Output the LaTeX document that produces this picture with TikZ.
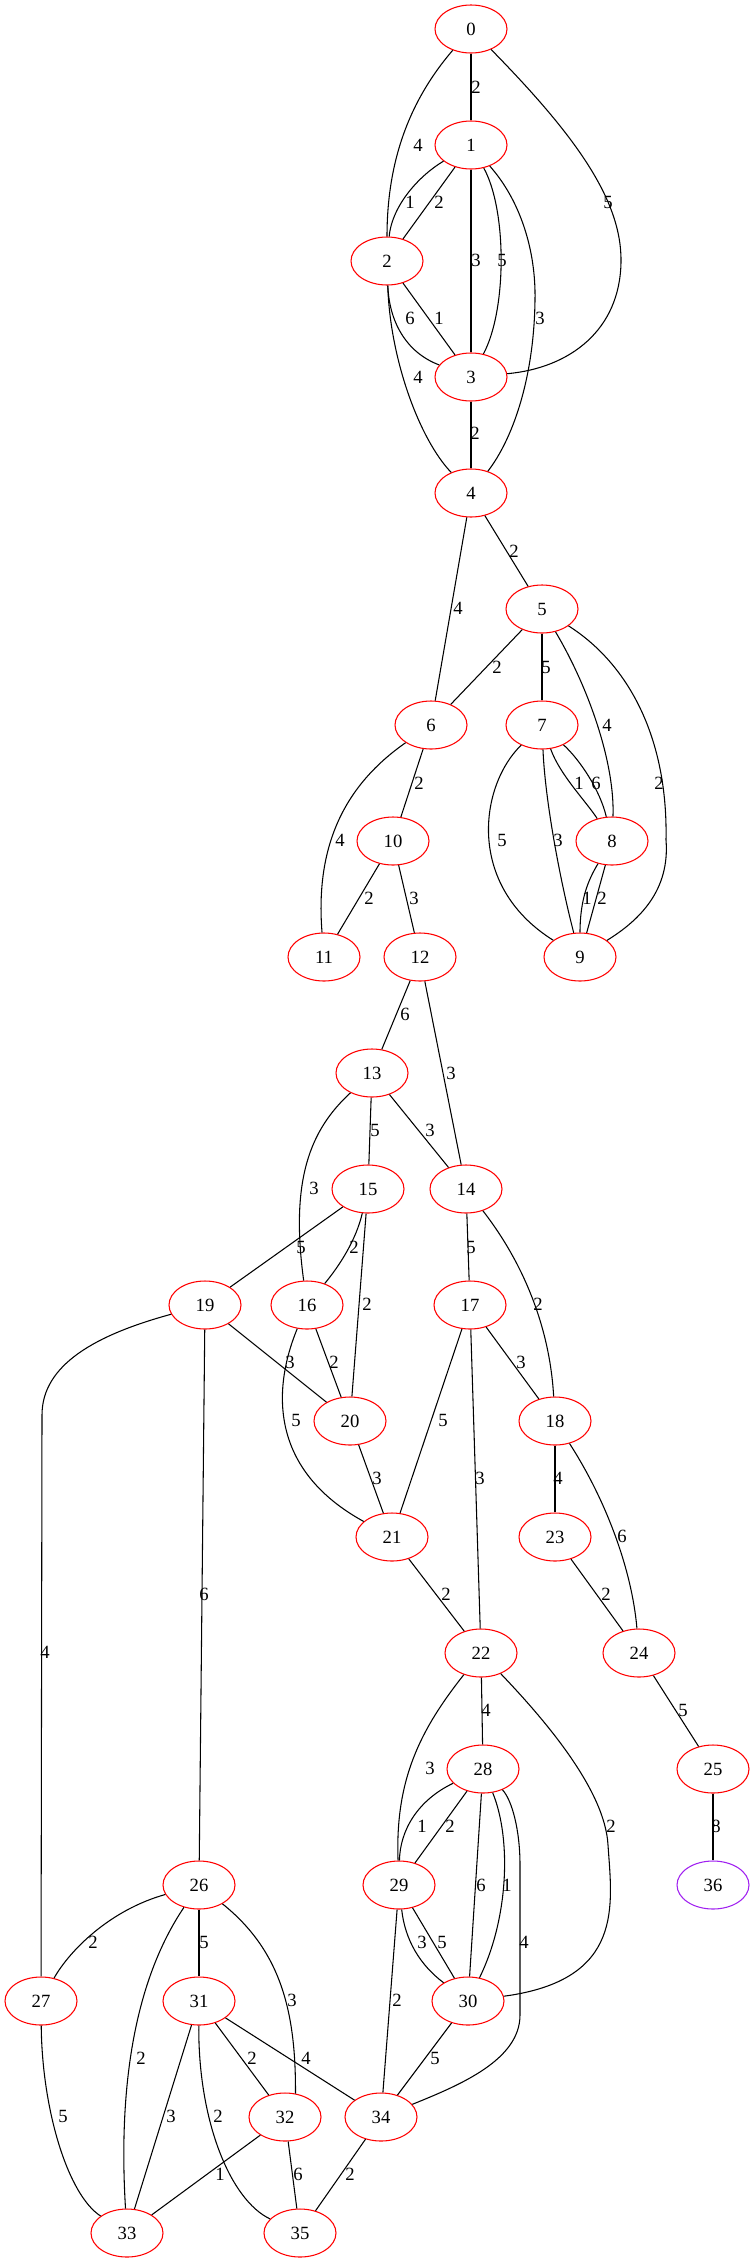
\documentclass[tikz,border=0pt]{standalone}
\usepackage{fontspec}
\setmainfont{Liberation Serif}
\usetikzlibrary{shapes.geometric}
\tikzset{
  nd/.style={ellipse,draw=red,line width=0.8pt,minimum width=54pt,minimum height=36pt,inner sep=0pt,font=\fontsize{14pt}{16pt}\selectfont},
  ndp/.style={nd,draw={rgb,255:red,160;green,32;blue,240}},
  lbl/.style={inner sep=0pt,font=\fontsize{14pt}{16pt}\selectfont},
  ed/.style={draw=black,line width=0.8pt}
}
\begin{document}
\begin{tikzpicture}[x=0.75pt,y=-0.75pt]
\useasboundingbox (0,0) rectangle (751,2263);
% nodes
\node[nd] (n0) at (471,29) {0};
\node[nd] (n1) at (471,145) {1};
\node[nd] (n2) at (387,261) {2};
\node[nd] (n3) at (471,377) {3};
\node[nd] (n4) at (471,493) {4};
\node[nd] (n5) at (542,609) {5};
\node[nd] (n6) at (431,725) {6};
\node[nd] (n7) at (542,725) {7};
\node[nd] (n8) at (612,841) {8};
\node[nd] (n9) at (580,957) {9};
\node[nd] (n10) at (393,841) {10};
\node[nd] (n11) at (324,957) {11};
\node[nd] (n12) at (420,957) {12};
\node[nd] (n13) at (372,1073) {13};
\node[nd] (n14) at (466,1189) {14};
\node[nd] (n15) at (368,1189) {15};
\node[nd] (n16) at (307,1305) {16};
\node[nd] (n17) at (470,1305) {17};
\node[nd] (n18) at (555,1421) {18};
\node[nd] (n19) at (205,1305) {19};
\node[nd] (n20) at (350,1421) {20};
\node[nd] (n21) at (392,1537) {21};
\node[nd] (n22) at (481,1653) {22};
\node[nd] (n23) at (555,1537) {23};
\node[nd] (n24) at (639,1653) {24};
\node[nd] (n25) at (713,1769) {25};
\node[nd] (n26) at (199,1885) {26};
\node[nd] (n27) at (41,2001) {27};
\node[nd] (n28) at (483,1769) {28};
\node[nd] (n29) at (399,1885) {29};
\node[nd] (n30) at (468,2001) {30};
\node[nd] (n31) at (199,2001) {31};
\node[nd] (n32) at (285,2117) {32};
\node[nd] (n33) at (127,2233) {33};
\node[nd] (n34) at (381,2117) {34};
\node[nd] (n35) at (300,2233) {35};
\node[ndp] (n36) at (713,1885) {36};
% edges
\draw[ed] (n0) -- (n1);
\draw[ed] (n0) .. controls (410,100) and (387,160) .. (n2);
\draw[ed] (n0) .. controls (575,135) and (622,200) .. (621,262) .. controls (620,330) and (570,368) .. (n3);
\draw[ed] (n1) .. controls (420,175) and (392,205) .. (n2);
\draw[ed] (n1) -- (n2);
\draw[ed] (n1) -- (n3);
\draw[ed] (n1) .. controls (507,210) and (507,310) .. (n3);
\draw[ed] (n1) .. controls (520,200) and (536,250) .. (535,300) .. controls (534,380) and (512,440) .. (n4);
\draw[ed] (n2) .. controls (389,320) and (405,352) .. (n3);
\draw[ed] (n2) -- (n3);
\draw[ed] (n2) .. controls (390,360) and (420,440) .. (n4);
\draw[ed] (n3) -- (n4);
\draw[ed] (n4) -- (n5);
\draw[ed] (n4) -- (n6);
\draw[ed] (n5) -- (n6);
\draw[ed] (n5) -- (n7);
\draw[ed] (n5) .. controls (590,690) and (615,765) .. (n8);
\draw[ed] (n5) .. controls (630,665) and (668,740) .. (666,840) .. controls (670,890) and (640,920) .. (n9);
\draw[ed] (n6) -- (n10);
\draw[ed] (n6) .. controls (345,785) and (315,845) .. (n11);
\draw[ed] (n7) .. controls (560,775) and (585,800) .. (n8);
\draw[ed] (n7) .. controls (580,760) and (600,790) .. (n8);
\draw[ed] (n7) .. controls (480,785) and (465,885) .. (n9);
\draw[ed] (n7) .. controls (545,800) and (560,880) .. (n9);
\draw[ed] (n8) .. controls (588,880) and (580,900) .. (n9);
\draw[ed] (n8) -- (n9);
\draw[ed] (n10) -- (n11);
\draw[ed] (n10) -- (n12);
\draw[ed] (n12) -- (n13);
\draw[ed] (n12) -- (n14);
\draw[ed] (n13) -- (n14);
\draw[ed] (n13) -- (n15);
\draw[ed] (n13) .. controls (310,1130) and (290,1180) .. (n16);
\draw[ed] (n15) -- (n19);
\draw[ed] (n15) .. controls (356,1240) and (340,1265) .. (n16);
\draw[ed] (n15) -- (n20);
\draw[ed] (n14) -- (n17);
\draw[ed] (n14) .. controls (525,1265) and (550,1330) .. (n18);
\draw[ed] (n19) -- (n20);
\draw[ed] (n16) -- (n20);
\draw[ed] (n16) .. controls (272,1390) and (270,1470) .. (n21);
\draw[ed] (n17) -- (n18);
\draw[ed] (n17) -- (n21);
\draw[ed] (n17) -- (n22);
\draw[ed] (n20) -- (n21);
\draw[ed] (n18) -- (n23);
\draw[ed] (n18) .. controls (606,1500) and (632,1570) .. (n24);
\draw[ed] (n19) .. controls (95,1335) and (42,1365) .. (42,1415) -- (n27);
\draw[ed] (n19) -- (n26);
\draw[ed] (n21) -- (n22);
\draw[ed] (n23) -- (n24);
\draw[ed] (n22) .. controls (420,1730) and (395,1780) .. (n29);
\draw[ed] (n22) -- (n28);
\draw[ed] (n22) .. controls (545,1720) and (605,1790) .. (608,1845) .. controls (612,1905) and (625,1980) .. (n30);
\draw[ed] (n24) -- (n25);
\draw[ed] (n25) -- (n36);
\draw[ed] (n28) .. controls (418,1800) and (400,1830) .. (n29);
\draw[ed] (n28) -- (n29);
\draw[ed] (n28) -- (n30);
\draw[ed] (n28) .. controls (512,1840) and (508,1920) .. (n30);
\draw[ed] (n28) .. controls (512,1800) and (520,1830) .. (520,1865) -- (520,2015) .. controls (520,2060) and (460,2085) .. (n34);
\draw[ed] (n26) .. controls (110,1910) and (70,1950) .. (n27);
\draw[ed] (n26) -- (n31);
\draw[ed] (n26) .. controls (135,1980) and (118,2085) .. (n33);
\draw[ed] (n26) .. controls (280,1950) and (296,2010) .. (n32.66);
\draw[ed] (n29) .. controls (405,1940) and (420,1965) .. (n30);
\draw[ed] (n29) -- (n30);
\draw[ed] (n29) -- (n34);
\draw[ed] (n27) .. controls (42,2110) and (68,2195) .. (n33);
\draw[ed] (n31) -- (n33);
\draw[ed] (n31) .. controls (198,2120) and (230,2200) .. (n35);
\draw[ed] (n31) -- (n32);
\draw[ed] (n31) -- (n34);
\draw[ed] (n30) -- (n34);
\draw[ed] (n32) -- (n33);
\draw[ed] (n32) -- (n35);
\draw[ed] (n34) -- (n35);
% edge labels
\node[lbl] (l0-1) at (476,87) {2};
\node[lbl] (l0-2) at (418,145) {4};
\node[lbl] (l0-3) at (608,202) {5};
\node[lbl] (l1-2a) at (410,202) {1};
\node[lbl] (l1-2b) at (439,202) {2};
\node[lbl] (l1-3a) at (476,260) {3};
\node[lbl] (l1-3b) at (502,260) {5};
\node[lbl] (l1-4) at (540,318) {3};
\node[lbl] (l2-3a) at (410,318) {6};
\node[lbl] (l2-3b) at (439,318) {1};
\node[lbl] (l2-4) at (418,377) {4};
\node[lbl] (l3-4) at (475,433) {2};
\node[lbl] (l4-5) at (514,551) {2};
\node[lbl] (l4-6) at (458,608) {4};
\node[lbl] (l5-6) at (497,667) {2};
\node[lbl] (l5-7) at (546,667) {5};
\node[lbl] (l5-8) at (607,725) {4};
\node[lbl] (l5-9) at (659,783) {2};
\node[lbl] (l6-10) at (419,783) {2};
\node[lbl] (l6-11) at (340,840) {4};
\node[lbl] (l7-8a) at (579,783) {1};
\node[lbl] (l7-8b) at (596,783) {6};
\node[lbl] (l7-9a) at (502,840) {5};
\node[lbl] (l7-9b) at (558,840) {3};
\node[lbl] (l8-9a) at (587,898) {1};
\node[lbl] (l8-9b) at (602,898) {2};
\node[lbl] (l10-11) at (369,898) {2};
\node[lbl] (l10-12) at (414,898) {3};
\node[lbl] (l12-13) at (405,1014) {6};
\node[lbl] (l12-14) at (451,1073) {3};
\node[lbl] (l13-14) at (430,1130) {3};
\node[lbl] (l13-15) at (375,1130) {5};
\node[lbl] (l13-16) at (314,1188) {3};
\node[lbl] (l15-19) at (301,1247) {5};
\node[lbl] (l15-16) at (354,1247) {2};
\node[lbl] (l15-20) at (367,1304) {2};
\node[lbl] (l14-17) at (471,1247) {5};
\node[lbl] (l14-18) at (538,1304) {2};
\node[lbl] (l19-20) at (290,1362) {3};
\node[lbl] (l16-20) at (334,1362) {2};
\node[lbl] (l16-21) at (296,1420) {5};
\node[lbl] (l17-18) at (521,1362) {3};
\node[lbl] (l17-21) at (443,1420) {5};
\node[lbl] (l17-22) at (480,1478) {3};
\node[lbl] (l20-21) at (377,1478) {3};
\node[lbl] (l18-23) at (558,1478) {4};
\node[lbl] (l18-24) at (622,1536) {6};
\node[lbl] (l19-27) at (45,1652) {4};
\node[lbl] (l19-26) at (204,1594) {6};
\node[lbl] (l21-22) at (446,1594) {2};
\node[lbl] (l23-24) at (606,1594) {2};
\node[lbl] (l22-29) at (430,1768) {3};
\node[lbl] (l22-28) at (486,1710) {4};
\node[lbl] (l22-30) at (611,1826) {2};
\node[lbl] (l24-25) at (683,1710) {5};
\node[lbl] (l25-36) at (716,1826) {8};
\node[lbl] (l28-29a) at (422,1826) {1};
\node[lbl] (l28-29b) at (450,1826) {2};
\node[lbl] (l28-30a) at (481,1885) {6};
\node[lbl] (l28-30b) at (507,1885) {1};
\node[lbl] (l28-34) at (524,1942) {4};
\node[lbl] (l26-27) at (93,1942) {2};
\node[lbl] (l26-31) at (204,1942) {5};
\node[lbl] (l26-33) at (141,2058) {2};
\node[lbl] (l26-32) at (292,2000) {3};
\node[lbl] (l29-30a) at (422,1942) {3};
\node[lbl] (l29-30b) at (442,1942) {5};
\node[lbl] (l29-34) at (397,2000) {2};
\node[lbl] (l27-33) at (63,2116) {5};
\node[lbl] (l31-33) at (171,2116) {3};
\node[lbl] (l31-35) at (218,2116) {2};
\node[lbl] (l31-32) at (252,2058) {2};
\node[lbl] (l31-34) at (306,2058) {4};
\node[lbl] (l30-34) at (435,2058) {5};
\node[lbl] (l32-33) at (220,2174) {1};
\node[lbl] (l32-35) at (298,2174) {6};
\node[lbl] (l34-35) at (350,2174) {2};
\end{tikzpicture}
\end{document}
